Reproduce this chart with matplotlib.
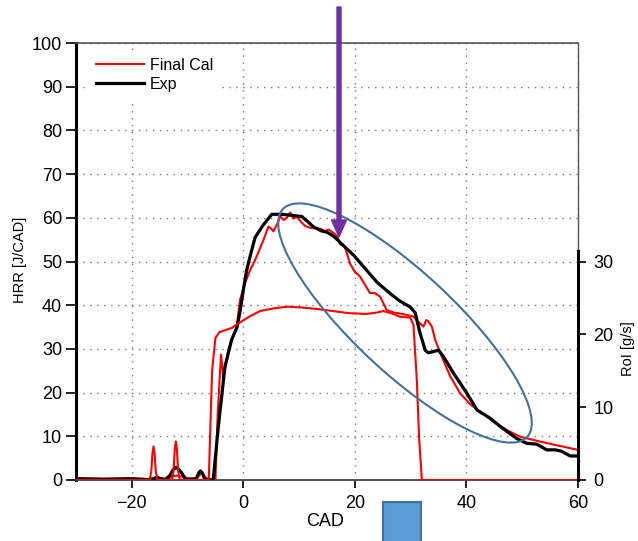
import matplotlib
matplotlib.use("Agg")
import matplotlib.pyplot as plt
from matplotlib.patches import Ellipse, FancyArrow, Rectangle

plt.rcParams['font.family'] = ['Liberation Sans', 'DejaVu Sans']

# experimental heat release rate [J/CAD]
cad_exp = [-30, -25, -20, -17, -16, -15.5, -15, -14, -13.2, -12.6, -12.1, -11.6, -11, -10.5, -10,
           -9, -8.4, -8.0, -7.7, -7.3, -7, -6.5,
           -5.4, -4.5, -3.3, -2.1, -1.1, -0.6, 0.0, 0.6, 1.2, 2.1, 3.6, 5.1, 7, 9, 10.5, 12.6, 14,
           15.0, 16.2, 17.4, 19.8, 22.1, 24, 26.3, 28, 29.9, 30.8, 31.6, 32.6, 33.2, 35.0, 35.9,
           37.7, 40.1, 41.9, 44.3, 46.1, 49.0, 50.8, 52.6, 54.4, 55.9, 57, 58.6, 60]
hrr_exp = [0.3, 0.2, 0.3, 0.1, 0.3, 0.7, 0.4, 0.1, 1.0, 2.3, 2.9, 2.5, 1.5, 0.5, 0.1,
           0.2, 0.4, 1.6, 2.1, 1.5, 0.4, 0.0,
           0.0, 12.0, 25.9, 32.1, 35.1, 38.5, 43.5, 48.0, 51.1, 55.5, 58.4, 60.8, 60.8, 60.5, 60.3,
           57.9, 57.0, 56.7, 55.8, 54.3, 51.4, 48.0, 45.2, 42.7, 41.0, 39.6, 38.3, 34.0, 29.7, 29.1,
           29.7, 28.2, 24.4, 19.8, 16.0, 14.1, 12.2, 9.5, 8.4, 8.2, 6.9, 6.9, 6.6, 5.5, 5.5]

# calibrated model heat release rate [J/CAD]
cad_cal = [-30, -17, -16, -15, -13.5, -12.5, -12, -11, -10, -8.5, -7.5, -6.5, -5.0, -4.6, -4.0,
           -3.6, -3.2, -2.7, -1.2, -0.6, 0.3, 1.2, 2.1, 3.6, 4.5, 5.0, 5.4, 6.3, 6.6, 7.2, 7.8, 8.4,
           9.0, 9.5, 10.2, 11.1, 12.0, 13.0, 13.8, 14.5, 15.3, 16.2, 16.8, 17.4, 18.2, 19.1, 20.0,
           20.9, 22.7, 23.5, 24.5, 25.7, 27, 28.1, 30.5, 31.5, 32.3, 32.8, 33.2, 33.8, 34.4, 35.6,
           37.1, 38.9, 40.7, 42.5, 44.9, 47.3, 49.6, 53.2, 56, 60]
hrr_cal = [0, 0, 0.3, 0.2, 0.3, 0.9, 1.0, 0.8, 0.4, 0.3, 1.5, 0.3, 0, 15, 28.7,
           23.5, 26, 29.8, 35.0, 41.2, 45, 48.0, 50.3, 54.9, 58.0, 57.5, 56.9, 59.2, 60.4, 59.5, 60.0, 61.2,
           59.8, 60.3, 59.3, 58.1, 57.7, 57.6, 57.5, 57.0, 57.3, 56.5, 55.8, 53.9, 53.4, 49.6, 47.6,
           46.6, 42.8, 42.8, 42.0, 38.9, 38.3, 38.1, 37.4, 36.0, 35.1, 36.6, 36.3, 35.1, 32.0, 28.2,
           23.7, 19.8, 17.3, 15.6, 13.3, 11.4, 9.9, 8.8, 8.0, 6.9]

# rate of injection [g/s]
cad_roi = [-30, -16.8, -16.5, -16.3, -16.1, -15.9, -15.7, -15.4,
           -12.8, -12.5, -12.3, -12.1, -11.9, -11.7, -11.4,
           -6.2, -5.6, -5.0, -4.3, -2, -0.9, 1, 3,
           5.7, 8, 10.2, 13, 16, 19, 22.1, 24, 25.1, 26.5, 28.1, 29.9, 30.5, 31.1, 31.5, 32.0, 60]
roi = [0, 0, 1.2, 3.6, 4.6, 3.6, 1.2, 0,
       0, 1.3, 4.2, 5.3, 4.2, 1.3, 0,
       0, 15.0, 19.5, 20.3, 20.9, 21.5, 22.4, 23.2,
       23.6, 23.8, 23.7, 23.5, 23.2, 22.9, 22.8, 23.0, 23.2, 22.9, 22.4, 22.3, 21.3, 13.8, 6.0, 0, 0]

fig = plt.figure(figsize=(6.38, 5.41), dpi=100)
ax = fig.add_axes([76 / 638, 61 / 541, 502 / 638, 437 / 541])
ax2 = ax.twinx()

ax.plot(cad_cal, hrr_cal, color='red', lw=1.5, label='Final Cal', zorder=3)
ax.plot(cad_exp, hrr_exp, color='black', lw=2.3, label='Exp', zorder=4)
ax2.plot(cad_roi, roi, color='red', lw=1.5)

ax.set_xlim(-30, 60)
ax.set_ylim(0, 100)
ax2.set_ylim(0, 60)
ax.set_xticks([-20, 0, 20, 40, 60])
ax.set_yticks(range(0, 101, 10))
ax2.set_yticks([0, 10, 20, 30])

ax.grid(True, color='#777777', linestyle=(0, (1, 4)), linewidth=1)
ax.set_axisbelow(True)

ax.tick_params(axis='y', labelsize=13, length=7, width=1.2, pad=3)
ax.tick_params(axis='x', labelsize=13, length=6, width=1.2, pad=5)
ax2.tick_params(axis='y', labelsize=13, length=6, width=1.2, pad=5)

ax.spines['left'].set_linewidth(2.2)
ax.spines['bottom'].set_color('#444444')
ax.spines['bottom'].set_linewidth(1.3)
ax.spines['top'].set_color('#555555')
ax.spines['top'].set_linewidth(1.2)
ax.spines['right'].set_color('#555555')
ax.spines['right'].set_linewidth(1.0)
for s in ['left', 'top', 'bottom']:
    ax2.spines[s].set_visible(False)
ax2.spines['right'].set_bounds(0, 31.5)
ax2.spines['right'].set_linewidth(2.2)

ax.set_xlabel('CAD', fontsize=13)
ax.xaxis.set_label_coords(0.497, -0.075)
ax.set_ylabel('HRR [J/CAD]', fontsize=10.5)
ax.yaxis.set_label_coords(-0.098, 0.503)
ax2.set_ylabel('RoI [g/s]', fontsize=10.5)
ax2.yaxis.set_label_coords(1.085, 0.30)

leg = ax.legend(loc='upper left', bbox_to_anchor=(0.014, 0.995), fontsize=11.5, handlelength=3.0,
                handletextpad=0.4, labelspacing=0.25, borderpad=0.5, borderaxespad=0.3,
                frameon=True, facecolor='white', edgecolor='none', framealpha=1, fancybox=False)

# annotation overlays, in figure pixel coordinates (inches at 100 dpi)
tr = fig.dpi_scale_trans
fig.add_artist(Ellipse((4.05, (541 - 323) / 100), 3.34, 1.0, angle=-43, fill=False,
                       edgecolor='#41719C', lw=1.5, transform=tr))
fig.add_artist(FancyArrow(3.39, (541 - 7) / 100, 0, -2.30, width=0.04, head_width=0.15,
                          head_length=0.17, length_includes_head=True, color='#7030A0',
                          transform=tr))
fig.add_artist(Rectangle((3.83, -0.05), 0.38, 0.44, facecolor='#5B9BD5', edgecolor='#41719C',
                         lw=1.5, transform=tr))

fig.savefig('out.png', dpi=100)
